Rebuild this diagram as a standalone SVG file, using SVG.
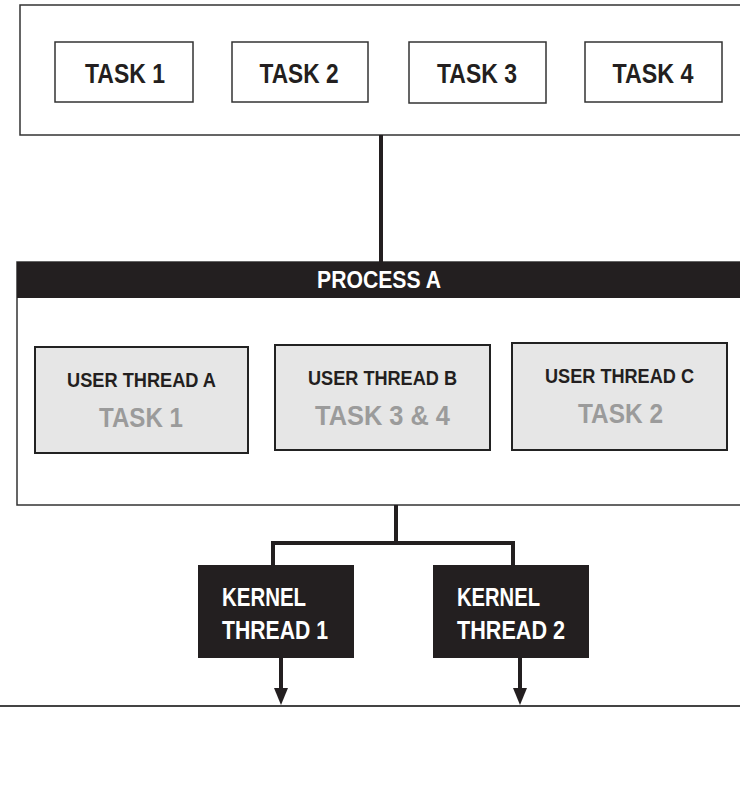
<svg xmlns="http://www.w3.org/2000/svg" width="740" height="807" viewBox="0 0 740 807">
<defs>
<style>
.t{font-family:"Liberation Sans",Arial,sans-serif;font-weight:bold;}
.box{fill:#fff;stroke:#333;stroke-width:1.5;}
.ut{fill:#e6e6e6;stroke:#222;stroke-width:2;}
.k{fill:#231f20;}
.ln{fill:none;stroke:#231f20;stroke-width:4;}
</style>
</defs>
<rect width="740" height="807" fill="#fff"/>
<g id="tasks">
<rect class="box" x="20" y="5" width="730" height="130"/>
</g>
<g id="task1"><rect class="box" x="55" y="42" width="138" height="60"/><text class="t" x="125" y="83" font-size="28" text-anchor="middle" fill="#231f20" textLength="80" lengthAdjust="spacingAndGlyphs">TASK 1</text></g>
<g id="task2"><rect class="box" x="232" y="42" width="136" height="60"/><text class="t" x="299" y="83" font-size="28" text-anchor="middle" fill="#231f20" textLength="79" lengthAdjust="spacingAndGlyphs">TASK 2</text></g>
<g id="task3"><rect class="box" x="409" y="42" width="137" height="61"/><text class="t" x="477" y="83" font-size="28" text-anchor="middle" fill="#231f20" textLength="80" lengthAdjust="spacingAndGlyphs">TASK 3</text></g>
<g id="task4"><rect class="box" x="585" y="42" width="137" height="60"/><text class="t" x="653" y="83" font-size="28" text-anchor="middle" fill="#231f20" textLength="81" lengthAdjust="spacingAndGlyphs">TASK 4</text></g>
<g id="processA">
<rect class="box" x="17" y="262" width="733" height="243"/>
<rect class="k" x="17" y="262" width="733" height="36"/>
<text class="t" x="379" y="288" font-size="24" text-anchor="middle" fill="#fff" textLength="124" lengthAdjust="spacingAndGlyphs">PROCESS A</text>
</g>
<g id="userA"><rect class="ut" x="35" y="347" width="213" height="106"/><text class="t" x="141.5" y="387" font-size="20" text-anchor="middle" fill="#231f20" textLength="149" lengthAdjust="spacingAndGlyphs">USER THREAD A</text><text class="t" x="141" y="427" font-size="28" text-anchor="middle" fill="#9b9b9b" textLength="84" lengthAdjust="spacingAndGlyphs">TASK 1</text></g>
<g id="userB"><rect class="ut" x="275" y="345" width="215" height="105"/><text class="t" x="382.5" y="385" font-size="20" text-anchor="middle" fill="#231f20" textLength="149" lengthAdjust="spacingAndGlyphs">USER THREAD B</text><text class="t" x="382.5" y="425" font-size="28" text-anchor="middle" fill="#9b9b9b" textLength="135" lengthAdjust="spacingAndGlyphs">TASK 3 &amp; 4</text></g>
<g id="userC"><rect class="ut" x="512" y="343" width="215" height="107"/><text class="t" x="619.5" y="383" font-size="20" text-anchor="middle" fill="#231f20" textLength="149" lengthAdjust="spacingAndGlyphs">USER THREAD C</text><text class="t" x="620.5" y="423" font-size="28" text-anchor="middle" fill="#9b9b9b" textLength="85" lengthAdjust="spacingAndGlyphs">TASK 2</text></g>
<g id="kernel1"><rect class="k" x="198" y="565" width="156" height="93"/><text class="t" x="222" y="606" font-size="25" fill="#fff" textLength="84" lengthAdjust="spacingAndGlyphs">KERNEL</text><text class="t" x="222" y="639" font-size="25" fill="#fff" textLength="106" lengthAdjust="spacingAndGlyphs">THREAD 1</text></g>
<g id="kernel2"><rect class="k" x="433" y="565" width="156" height="93"/><text class="t" x="457" y="606" font-size="25" fill="#fff" textLength="83" lengthAdjust="spacingAndGlyphs">KERNEL</text><text class="t" x="457" y="639" font-size="25" fill="#fff" textLength="108" lengthAdjust="spacingAndGlyphs">THREAD 2</text></g>
<g id="connectors">
<line class="ln" x1="381" y1="135" x2="381" y2="262"/>
<path class="ln" d="M396,505 V543 M271,543 H515 M273,541 V565 M513,541 V565"/>
<line x1="0" y1="706" x2="740" y2="706" stroke="#444" stroke-width="2"/>
<line class="ln" x1="281" y1="658" x2="281" y2="690"/>
<line class="ln" x1="520" y1="658" x2="520" y2="690"/>
<path d="M274,688 L288,688 L281,705 Z" fill="#231f20"/>
<path d="M513,688 L527,688 L520,705 Z" fill="#231f20"/>
</g>
</svg>
